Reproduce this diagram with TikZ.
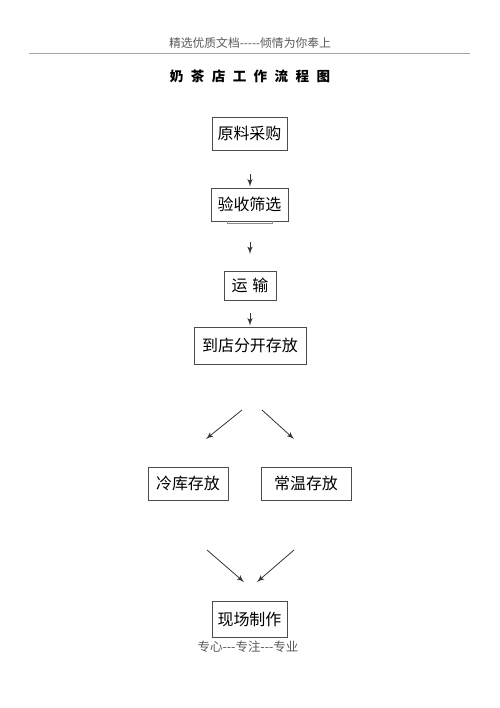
\documentclass[tikz,border=0pt]{standalone}
\usepackage{fontspec}
\usepackage{tikz}
\usetikzlibrary{positioning,arrows}
\newfontfamily\cjk{Noto Sans CJK SC}
\newcommand{\tsp}{\hspace{0.55em}}

\begin{document}
\begin{tikzpicture}[x=0.02cm,y=-0.02cm]
    \tikzstyle{stepbox}=[rectangle,draw=black!70,line width=0.5pt,inner sep=0pt,font=\cjk\fontsize{9.1}{9}\selectfont]
    \tikzstyle{head}=[text=black!65,inner sep=0pt]
    \tikzstyle{edge}=[->,>=latex',draw=black!80,line width=0.45pt]
    \useasboundingbox (0,0) rectangle (500,708);

    % page header
    \node[head,font=\cjk\fontsize{6.7}{7}\selectfont] (header) at (250,43) {精选优质文档-----倾情为你奉上};
    \draw[black!35,line width=0.6pt] (29,53.5) -- (470,53.5);
    \node[inner sep=0pt,font=\cjk\bfseries\fontsize{7.7}{8}\selectfont] (title) at (250,76)
        {奶\tsp 茶\tsp 店\tsp 工\tsp 作\tsp 流\tsp 程\tsp 图};

    % boxes
    \node[stepbox,minimum width=1.5cm,minimum height=0.66cm] (buy) at (249.5,133.5) {原料采购};
    \node[stepbox,minimum width=1.54cm,minimum height=0.66cm] (check) at (249.5,204.5) {验收筛选};
    \draw[black!45,line width=0.5pt] (227,221) -- (227,223.5) -- (272,223.5) -- (272,221);
    \node[stepbox,minimum width=1.04cm,minimum height=0.58cm] (ship) at (250,285.5) {运\hspace{0.3em}输};
    \node[stepbox,minimum width=2.24cm,minimum height=0.74cm] (store) at (250,345.5) {到店分开存放};
    \node[stepbox,minimum width=1.6cm,minimum height=0.66cm] (cold) at (188,483.5) {冷库存放};
    \node[stepbox,minimum width=1.8cm,minimum height=0.66cm] (warm) at (306,483.5) {常温存放};
    \node[stepbox,minimum width=1.5cm,minimum height=0.72cm] (make) at (249.5,619) {现场制作};

    % arrow ends
    \coordinate (a1) at (250,174); \coordinate (b1) at (250,186.5);
    \coordinate (a2) at (250,242); \coordinate (b2) at (250,254);
    \coordinate (a3) at (250,313); \coordinate (b3) at (250,325.5);
    \coordinate (a4) at (242,410); \coordinate (b4) at (206,439);
    \coordinate (a5) at (262,410); \coordinate (b5) at (294,439);
    \coordinate (a6) at (207,550); \coordinate (b6) at (244,582);
    \coordinate (a7) at (294,550); \coordinate (b7) at (257,582);

    \draw[edge] (a1) -- (b1);
    \draw[edge] (a2) -- (b2);
    \draw[edge] (a3) -- (b3);
    \draw[edge] (a4) -- (b4);
    \draw[edge] (a5) -- (b5);
    \draw[edge] (a6) -- (b6);
    \draw[edge] (a7) -- (b7);

    % page footer
    \node[head,font=\cjk\fontsize{7.1}{8}\selectfont] (footer) at (248,647) {专心---专注---专业};
\end{tikzpicture}
\end{document}
